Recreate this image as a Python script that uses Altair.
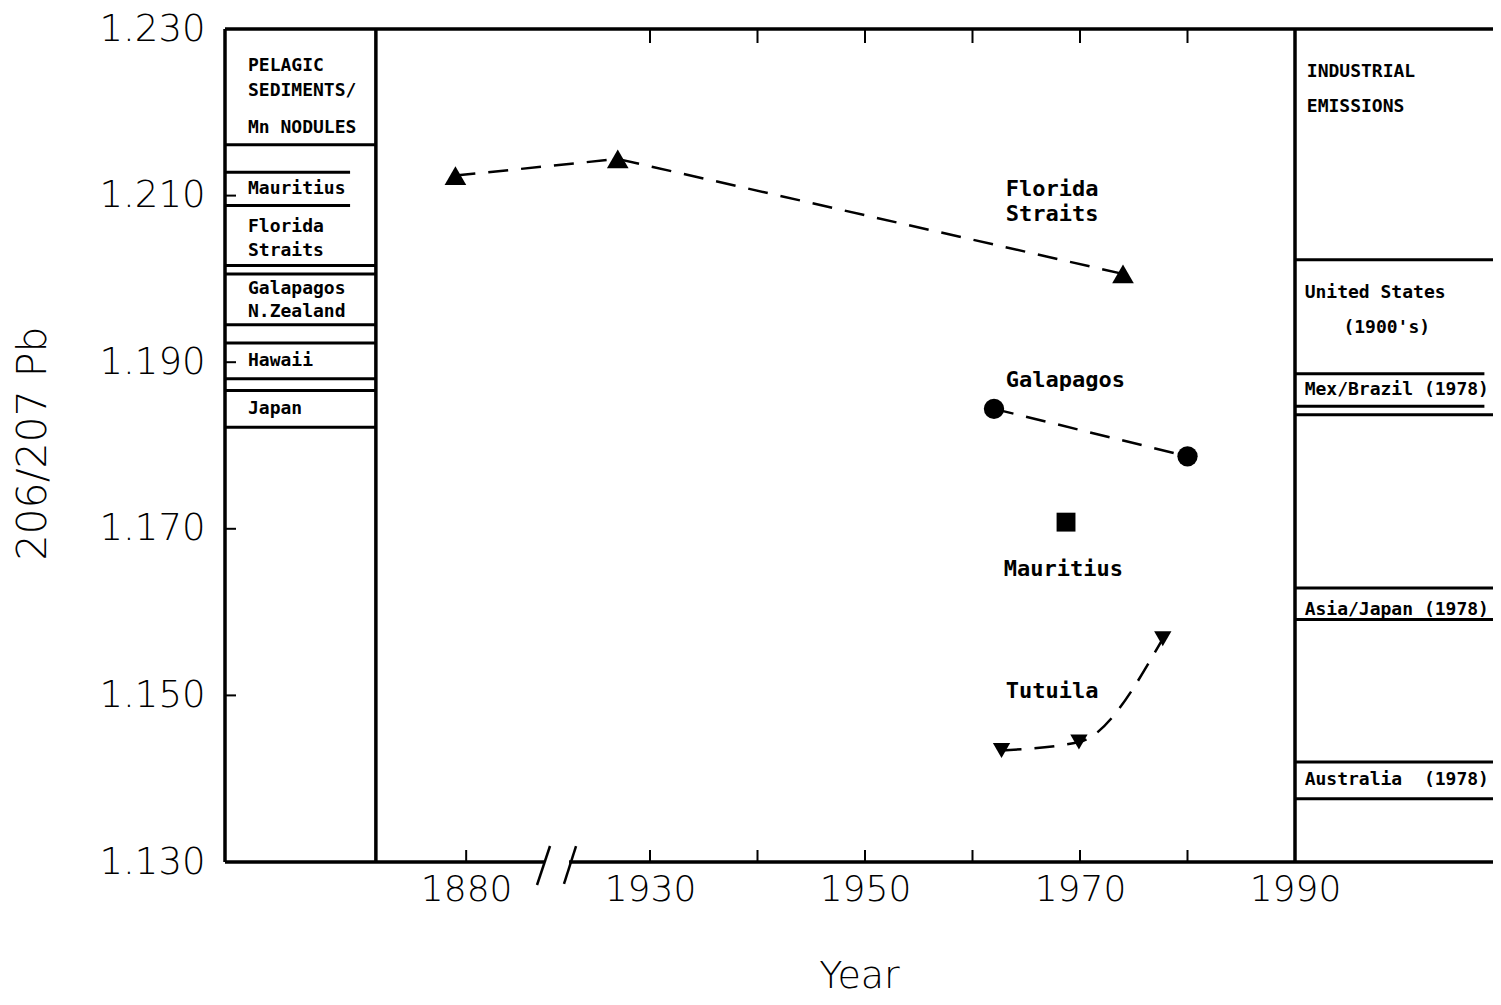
import altair as alt
import pandas as pd

# ---------------- data ----------------
series_names = ["Florida Straits", "Galapagos", "Mauritius", "Tutuila"]
florida_years = [1879, 1927, 1974]
florida_ratios = [1.2124, 1.2144, 1.2006]
galapagos_years = [1962, 1980]
galapagos_ratios = [1.1844, 1.1787]
mauritius_years = [1968.7]
mauritius_ratios = [1.1708]
tutuila_years = [1962.7, 1969.9, 1977.7]
tutuila_ratios = [1.1434, 1.1444, 1.1568]

# pelagic sediments / Mn nodules ranges (left panel)
sediment_sites = ["Mauritius", "Florida Straits", "Galapagos N.Zealand", "Hawaii", "Japan"]
sediment_high = [1.2128, 1.2161, 1.2006, 1.1923, 1.1866]
sediment_low = [1.2088, 1.2016, 1.1945, 1.1880, 1.1822]
sediment_nested = [True, False, False, False, False]

# industrial emissions ranges (right panel)
emission_sources = ["United States (1900's)", "Mex/Brazil (1978)", "Asia/Japan (1978)", "Australia (1978)"]
emission_high = [1.2023, 1.1886, 1.1629, 1.1420]
emission_low = [1.1837, 1.1847, 1.1591, 1.1376]
emission_nested = [False, True, False, False]

y_tick_values = [1.130, 1.150, 1.170, 1.190, 1.210, 1.230]
x_tick_years = [1880, 1930, 1950, 1970, 1990]
x_tick_labels = ["1880", "1930", "1950", "1970", "1990"]
x_minor_years = [1940, 1960, 1980]

left_panel_text = ["PELAGIC", "SEDIMENTS/", "Mn NODULES", "Mauritius", "Florida", "Straits",
                   "Galapagos", "N.Zealand", "Hawaii", "Japan"]
left_panel_ratio = [1.2256, 1.2226, 1.2181, 1.2108, 1.2062, 1.2034, 1.1988, 1.1960, 1.19015, 1.1844]
right_panel_text = ["INDUSTRIAL", "EMISSIONS", "United States", "(1900's)", "Mex/Brazil (1978)",
                    "Asia/Japan (1978)", "Australia\u00a0\u00a0(1978)"]
right_panel_ratio = [1.2248, 1.2206, 1.1983, 1.1941, 1.1867, 1.1603, 1.1398]
right_panel_indent = [0.2, 0.2, 0.0, 3.6, 0.0, 0.0, 0.0]
series_text = ["Florida", "Straits", "Galapagos", "Mauritius", "Tutuila"]
series_text_year = [1963.1, 1963.1, 1963.1, 1962.9, 1963.1]
series_text_ratio = [1.2108, 1.2078, 1.1879, 1.1652, 1.1505]

# ---------------- layout helpers ----------------
SHIFT = 32.9               # years cut out by the axis break
W, H = 1268, 833
X0 = 1890.465
X1 = X0 + W / 10.75
Y0, Y1 = 1.130, 1.230
LEFT_EDGE = 1904.5
RIGHT_EDGE = 1990.0
pos_expr = f"datum.year < 1900 ? datum.year + {SHIFT} : datum.year"

xs = alt.Scale(domain=[X0, X1], nice=False, zero=False)
ys = alt.Scale(domain=[Y0, Y1], nice=False, zero=False)

AX_FONT = "DejaVu Sans"
TXT_FONT = "DejaVu Sans Mono"

# ---------------- tables ----------------
series_df = pd.DataFrame({
    "series": ["Florida Straits"] * len(florida_years) + ["Galapagos"] * len(galapagos_years)
              + ["Mauritius"] * len(mauritius_years) + ["Tutuila"] * len(tutuila_years),
    "year": florida_years + galapagos_years + mauritius_years + tutuila_years,
    "ratio": florida_ratios + galapagos_ratios + mauritius_ratios + tutuila_ratios,
})

sed_rows = []
for s, hi, lo, n in zip(sediment_sites, sediment_high, sediment_low, sediment_nested):
    for v in (hi, lo):
        sed_rows.append({"site": s, "ratio": v, "x": X0, "x2": 1902.1 if n else LEFT_EDGE})
em_rows = []
for s, hi, lo, n in zip(emission_sources, emission_high, emission_low, emission_nested):
    for v in (hi, lo):
        em_rows.append({"site": s, "ratio": v, "x": RIGHT_EDGE, "x2": X1 - 0.8 if n else X1})
range_df = pd.DataFrame(sed_rows + em_rows)

frame_df = pd.DataFrame([
    {"x": X0, "x2": X0, "y": Y0, "y2": Y1},
    {"x": X0, "x2": X1, "y": Y1, "y2": Y1},
    {"x": X0, "x2": 1920.14, "y": Y0, "y2": Y0},
    {"x": 1922.47, "x2": X1, "y": Y0, "y2": Y0},
    {"x": LEFT_EDGE, "x2": LEFT_EDGE, "y": Y0, "y2": Y1},
    {"x": RIGHT_EDGE, "x2": RIGHT_EDGE, "y": Y0, "y2": Y1},
])
break_df = pd.DataFrame([
    {"x": 1919.49, "x2": 1920.70, "y": 1.12724, "y2": 1.13192},
    {"x": 1922.00, "x2": 1923.12, "y": 1.12736, "y2": 1.13192},
])

bottom_ticks = pd.DataFrame({"year": [y for y in x_tick_years + x_minor_years if y != 1990]})
top_ticks = pd.DataFrame({"year": [1930, 1940, 1950, 1960, 1970, 1980]})
left_ticks = pd.DataFrame({"ratio": y_tick_values[1:-1]})

label_df = pd.DataFrame({
    "text": left_panel_text + right_panel_text,
    "xpos": [1892.6] * len(left_panel_text) + [1990.9 + d for d in right_panel_indent],
    "ratio": left_panel_ratio + right_panel_ratio,
})
series_label_df = pd.DataFrame({"text": series_text, "xpos": series_text_year, "ratio": series_text_ratio})

x_tick_pos = [y + SHIFT if y < 1900 else y for y in x_tick_years]
label_expr = "datum.value < 1920 ? '%s' : format(datum.value, 'd')" % x_tick_labels[0]

x_axis = alt.Axis(values=x_tick_pos, labelExpr=label_expr, ticks=False, domain=False, grid=False,
                  labelFont=AX_FONT, labelFontWeight=200, labelFontSize=36, labelColor="black",
                  labelPadding=10, labelOverlap=False, labelFlush=False,
                  title="Year", titleFont=AX_FONT, titleFontWeight=200, titleFontSize=38,
                  titleColor="black", titleY=114, titleBaseline="middle")
y_axis = alt.Axis(values=y_tick_values, format=".3f", ticks=False, domain=False, grid=False,
                  labelFont=AX_FONT, labelFontWeight=200, labelFontSize=37, labelColor="black",
                  labelPadding=20, labelOverlap=False, labelFlush=False,
                  title="206/207 Pb", titleFont=AX_FONT, titleFontWeight=200, titleFontSize=41,
                  titleColor="black", titleX=-192, titleY=414, titleAngle=270,
                  titleAlign="center", titleBaseline="middle")

XE = lambda f: alt.X(f, scale=xs)
YE = lambda f: alt.Y(f, scale=ys)

# ---------------- layers ----------------
frame = alt.Chart(frame_df).mark_rule(color="black", strokeWidth=3.5).encode(
    x=alt.X("x:Q", scale=xs, axis=x_axis), x2="x2:Q",
    y=alt.Y("y:Q", scale=ys, axis=y_axis), y2="y2:Q")

breaks = alt.Chart(break_df).mark_rule(color="black", strokeWidth=2.5).encode(
    x=XE("x:Q"), x2="x2:Q", y=YE("y:Q"), y2="y2:Q")

ranges = alt.Chart(range_df).mark_rule(color="black", strokeWidth=3).encode(
    x=XE("x:Q"), x2="x2:Q", y=YE("ratio:Q"))

bt = alt.Chart(bottom_ticks).transform_calculate(xpos=pos_expr).mark_rule(
    color="black", strokeWidth=2).encode(
    x=XE("xpos:Q"), y=alt.value(H), y2=alt.value(H - 12))
tt = alt.Chart(top_ticks).transform_calculate(xpos=pos_expr).mark_rule(
    color="black", strokeWidth=2).encode(
    x=XE("xpos:Q"), y=alt.value(0), y2=alt.value(14))
lt = alt.Chart(left_ticks).mark_rule(color="black", strokeWidth=2).encode(
    y=YE("ratio:Q"), x=alt.value(0), x2=alt.value(11))

base = alt.Chart(series_df).transform_calculate(xpos=pos_expr)
enc = dict(x=XE("xpos:Q"), y=YE("ratio:Q"))

lines_straight = base.transform_filter(
    alt.FieldOneOfPredicate(field="series", oneOf=["Florida Straits", "Galapagos"])
).mark_line(color="black", strokeWidth=2.5, strokeDash=[20, 13]).encode(
    detail="series:N", order="year:Q", **enc)
lines_curve = base.transform_filter(
    alt.FieldOneOfPredicate(field="series", oneOf=["Tutuila"])
).mark_line(color="black", strokeWidth=2.5, strokeDash=[20, 13], interpolate="monotone").encode(
    order="year:Q", **enc)

points = base.mark_point(filled=True, fill="black", opacity=1, strokeWidth=0).encode(
    shape=alt.Shape("series:N", scale=alt.Scale(domain=series_names,
                    range=["triangle-up", "circle", "square", "triangle-down"]), legend=None),
    size=alt.Size("series:N", scale=alt.Scale(domain=series_names, range=[470, 300, 330, 470]),
                  legend=None),
    **enc)

panel_text = alt.Chart(label_df).mark_text(
    align="left", baseline="middle", font=TXT_FONT, fontWeight="bold", fontSize=18, color="black"
).encode(x=XE("xpos:Q"), y=YE("ratio:Q"), text="text:N")

series_labels = alt.Chart(series_label_df).mark_text(
    align="left", baseline="middle", font=TXT_FONT, fontWeight="bold", fontSize=22, color="black"
).encode(x=XE("xpos:Q"), y=YE("ratio:Q"), text="text:N")

chart = alt.layer(
    frame, breaks, ranges, bt, tt, lt, lines_straight, lines_curve, points, panel_text, series_labels
).properties(
    width=W, height=H,
    autosize=alt.AutoSizeParams(type="none"),
    padding={"left": 217, "top": 21, "right": 0, "bottom": 133},
).configure_view(stroke=None)

chart.save("out.html", embed_options={"renderer": "svg", "actions": False})
